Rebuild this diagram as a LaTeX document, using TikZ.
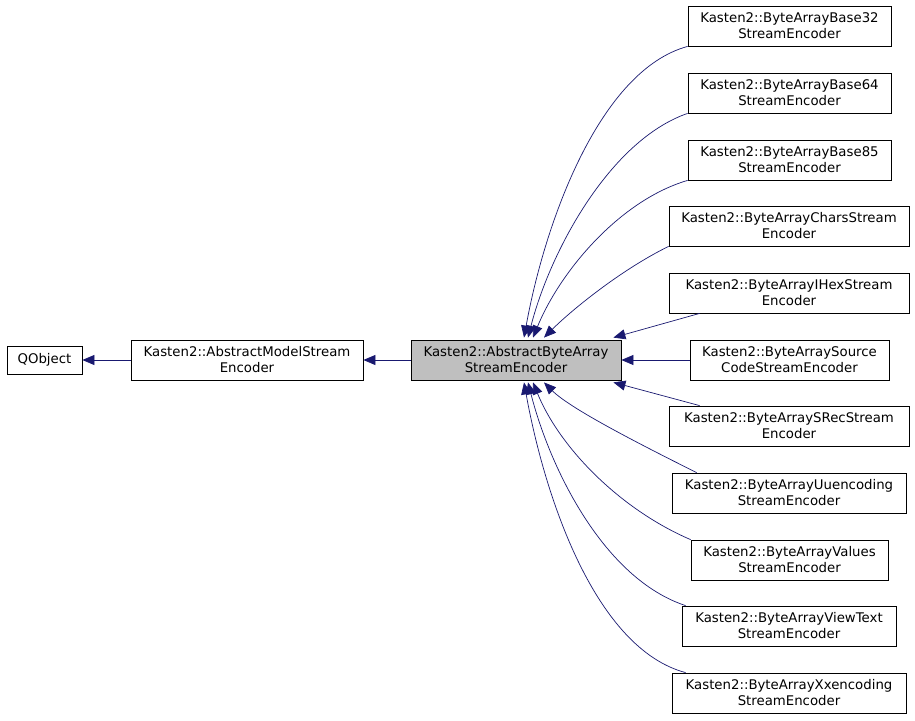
\documentclass[tikz,border=0pt]{standalone}
\usepackage{fontspec}
\setmainfont{DejaVu Sans}
\usetikzlibrary{arrows.meta}
\definecolor{edgeblue}{HTML}{191970}
\definecolor{basegray}{HTML}{BFBFBF}
\tikzset{
  cls/.style={draw=black, fill=white, align=center, inner sep=0pt, minimum height=40pt,
    line width=0.8pt, font=\fontsize{13.3}{16}\selectfont},
  inh/.style={draw=edgeblue, line width=0.7pt, -{Triangle[length=12pt,width=10pt]}},
}

\begin{document}
\begin{tikzpicture}[x=1pt,y=-1pt] % 14 nodes
   \useasboundingbox (0,0) rectangle (915,720);
   \node[cls, name=qobject, minimum width=75pt, minimum height=28pt] at (44.5,360) {QObject};
   \node[cls, name=modelenc, minimum width=232pt] at (247,360) {Kasten2::AbstractModelStream\\Encoder};
   \node[cls, name=bytearrayenc, minimum width=210pt, fill=basegray] at (516,360) {Kasten2::AbstractByteArray\\StreamEncoder};
   \node[cls, name=base32, minimum width=203pt] at (789.5,26) {Kasten2::ByteArrayBase32\\StreamEncoder};
   \node[cls, name=base64, minimum width=203pt] at (789.5,93) {Kasten2::ByteArrayBase64\\StreamEncoder};
   \node[cls, name=base85, minimum width=203pt] at (789.5,160) {Kasten2::ByteArrayBase85\\StreamEncoder};
   \node[cls, name=chars, minimum width=240pt] at (789,226) {Kasten2::ByteArrayCharsStream\\Encoder};
   \node[cls, name=ihex, minimum width=240pt] at (789,293) {Kasten2::ByteArrayIHexStream\\Encoder};
   \node[cls, name=source, minimum width=199pt] at (789.5,360) {Kasten2::ByteArraySource\\CodeStreamEncoder};
   \node[cls, name=srec, minimum width=240pt] at (789,426) {Kasten2::ByteArraySRecStream\\Encoder};
   \node[cls, name=uuenc, minimum width=234pt] at (789,493) {Kasten2::ByteArrayUuencoding\\StreamEncoder};
   \node[cls, name=values, minimum width=197pt] at (789.5,560) {Kasten2::ByteArrayValues\\StreamEncoder};
   \node[cls, name=viewtext, minimum width=214pt] at (789,626) {Kasten2::ByteArrayViewText\\StreamEncoder};
   \node[cls, name=xxenc, minimum width=234pt] at (789,693) {Kasten2::ByteArrayXxencoding\\StreamEncoder};

   \draw[inh] (modelenc.west) -- (qobject.east);
   \draw[inh] (bytearrayenc.west) -- (modelenc.east);

   \draw[inh] (base32.south west) .. controls +(-88,24) and +(21,-116) .. ([xshift=8pt,yshift=2pt]bytearrayenc.north);
   \draw[inh] (base64.south west) .. controls +(-78,27) and +(22,-86) .. ([xshift=12pt,yshift=2pt]bytearrayenc.north);
   \draw[inh] (base85.south west) .. controls +(-68,20) and +(27,-66) .. ([xshift=17pt,yshift=2pt]bytearrayenc.north);
   \draw[inh] (chars.south west) .. controls +(-49,24) and +(26,-26) .. ([xshift=28pt,yshift=2pt]bytearrayenc.north);
   \draw[inh] ([xshift=31pt]ihex.south west) -- ([xshift=-8pt,yshift=2pt]bytearrayenc.north east);
   \draw[inh] (source.west) -- (bytearrayenc.east);
   \draw[inh] ([xshift=31pt]srec.north west) -- ([xshift=-8pt,yshift=-2pt]bytearrayenc.south east);
   \draw[inh] ([xshift=25pt]uuenc.north west) .. controls +(-60,-30) and +(26,26) .. ([xshift=28pt,yshift=-2pt]bytearrayenc.south);
   \draw[inh] (values.north west) .. controls +(-70,-30) and +(27,66) .. ([xshift=17pt,yshift=-2pt]bytearrayenc.south);
   \draw[inh] ([xshift=4pt]viewtext.north west) .. controls +(-82,-27) and +(22,86) .. ([xshift=12pt,yshift=-2pt]bytearrayenc.south);
   \draw[inh] ([xshift=14pt]xxenc.north west) .. controls +(-90,-24) and +(21,116) .. ([xshift=8pt,yshift=-2pt]bytearrayenc.south);
\end{tikzpicture}
\end{document}
